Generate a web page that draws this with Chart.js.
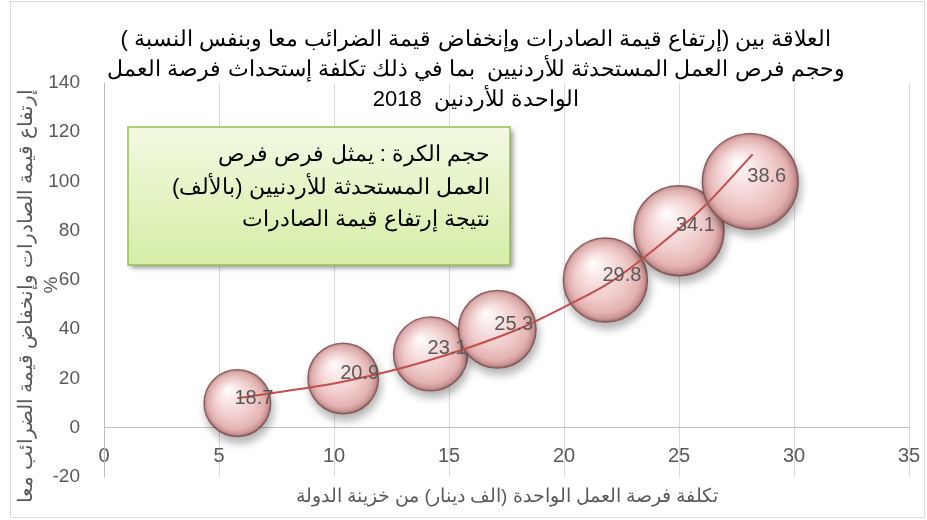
<!DOCTYPE html>
<html>
<head>
<meta charset="utf-8">
<script src="https://cdn.jsdelivr.net/npm/chart.js@4/dist/chart.umd.min.js"></script>
<style>
  html, body { margin: 0; padding: 0; background: #fff; }
  #wrap { width: 927px; height: 520px; }
</style>
</head>
<body>
<div id="wrap"><canvas id="grafico" width="927" height="520"></canvas></div>
<script>
// بيانات الرسم
const costX = [5.8, 10.4, 14.2, 17.1, 21.8, 25.0, 28.1];
const exportsY = [10, 20, 30, 40, 60, 80, 100];
const jobs = [18.7, 20.9, 23.1, 25.3, 29.8, 34.1, 38.6];

// خط الاتجاه كما يظهر في الصورة
const trendX = [5.8, 8, 10, 12, 14, 16, 18, 20, 22, 24, 26, 28.2];
const trendY = [12, 15, 18, 22, 27, 33, 40, 49, 59, 73, 89, 111];

const titleLines = [
  'العلاقة بين (إرتفاع قيمة الصادرات وإنخفاض قيمة الضرائب معا وبنفس النسبة )',
  'وحجم فرص العمل المستحدثة للأردنيين  بما في ذلك تكلفة إستحداث فرصة العمل',
  'الواحدة للأردنين  2018'
];
const noteLines = [
  'حجم الكرة : يمثل فرص فرص',
  'العمل المستحدثة للأردنيين (بالألف)',
  'نتيجة إرتفاع قيمة الصادرات'
];
const yTitle = ['إرتفاع قيمة الصادرات وإنخفاض قيمة الضرائب معا', '%'];
const xTitle = 'تكلفة فرصة العمل الواحدة (الف دينار) من خزينة الدولة';

const maxJobs = Math.max(...jobs);
const MAX_R = 48;

function bubbleFill(context) {
  if (context.type !== 'data') return '#eec4c4';
  const chart = context.chart;
  const p = context.raw;
  const cx = chart.scales.x.getPixelForValue(p.x);
  const cy = chart.scales.y.getPixelForValue(p.y);
  const r = p.r;
  if (!isFinite(cx) || !isFinite(cy)) return '#eec4c4';
  const g = chart.ctx.createRadialGradient(cx - 0.3 * r, cy - 0.42 * r, 0, cx, cy, r);
  g.addColorStop(0, '#ffffff');
  g.addColorStop(0.2, '#fbecec');
  g.addColorStop(0.6, '#f1cccc');
  g.addColorStop(0.85, '#e4b2b2');
  g.addColorStop(0.95, '#c99494');
  g.addColorStop(1, '#976666');
  return g;
}

const decor = {
  id: 'decor',
  beforeDraw(chart) {
    const ctx = chart.ctx;
    ctx.save();
    ctx.fillStyle = '#fff';
    ctx.fillRect(0, 0, chart.width, chart.height);
    ctx.strokeStyle = '#d9d9d9';
    ctx.lineWidth = 1;
    ctx.strokeRect(10.5, 1.5, 914, 516);
    ctx.restore();
  },
  beforeDatasetDraw(chart, args) {
    if (args.meta.type !== 'bubble') return;
    const ctx = chart.ctx;
    ctx.save();
    ctx.shadowColor = 'rgba(0,0,0,0.3)';
    ctx.shadowBlur = 8;
    ctx.shadowOffsetX = 2;
    ctx.shadowOffsetY = 6;
  },
  afterDatasetDraw(chart, args) {
    if (args.meta.type !== 'bubble') return;
    chart.ctx.restore();
  },
  afterDatasetsDraw(chart) {
    const ctx = chart.ctx;
    const meta = chart.getDatasetMeta(1);
    ctx.save();
    ctx.font = '20px "Liberation Sans", Arial, sans-serif';
    ctx.fillStyle = '#595959';
    ctx.textAlign = 'left';
    ctx.textBaseline = 'middle';
    meta.data.forEach((el, i) => {
      ctx.fillText(jobs[i].toFixed(1), el.x - 3, el.y - 5);
    });
    ctx.restore();
  },
  afterDraw(chart) {
    const ctx = chart.ctx;
    ctx.save();
    ctx.direction = 'rtl';

    // العنوان
    ctx.fillStyle = '#000';
    ctx.textAlign = 'center';
    ctx.textBaseline = 'middle';
    ctx.font = '22px "Liberation Sans", Arial, sans-serif';
    titleLines.forEach((t, i) => ctx.fillText(t, 476, 40 + i * 30));

    // عنوان المحور الأفقي
    ctx.fillStyle = '#595959';
    ctx.font = '19px "Liberation Sans", Arial, sans-serif';
    ctx.fillText(xTitle, 507, 497);

    // عنوان المحور العمودي
    ctx.save();
    ctx.translate(27, 296);
    ctx.rotate(-Math.PI / 2);
    ctx.font = '19.5px "Liberation Sans", Arial, sans-serif';
    ctx.fillText(yTitle[0], 0, 0);
    ctx.restore();
    ctx.save();
    ctx.translate(52, 285);
    ctx.rotate(-Math.PI / 2);
    ctx.fillText(yTitle[1], 0, 0);
    ctx.restore();

    // مربع الملاحظة
    const bx = 128, by = 127, bw = 382, bh = 138;
    ctx.save();
    ctx.shadowColor = 'rgba(0,0,0,0.4)';
    ctx.shadowBlur = 5;
    ctx.shadowOffsetX = 3;
    ctx.shadowOffsetY = 3;
    const g = ctx.createLinearGradient(0, by, 0, by + bh);
    g.addColorStop(0, '#f3f9e3');
    g.addColorStop(1, '#d5eea6');
    ctx.fillStyle = g;
    ctx.fillRect(bx, by, bw, bh);
    ctx.restore();
    ctx.strokeStyle = '#9bbb59';
    ctx.lineWidth = 1.5;
    ctx.strokeRect(bx, by, bw, bh);

    ctx.fillStyle = '#000';
    ctx.textAlign = 'right';
    ctx.font = '22px "Liberation Sans", Arial, sans-serif';
    noteLines.forEach((t, i) => ctx.fillText(t, 490, 155 + i * 32.5));
    ctx.restore();
  }
};

const ctx = document.getElementById('grafico').getContext('2d');
new Chart(ctx, {
  type: 'bubble',
  data: {
    datasets: [{
      type: 'line',
      label: 'trend',
      data: trendX.map((x, i) => ({ x: x, y: trendY[i] })),
      borderColor: '#c0504d',
      borderWidth: 2,
      pointRadius: 0,
      tension: 0.4,
      cubicInterpolationMode: 'monotone',
      fill: false,
      order: 0
    }, {
      label: 'jobs',
      data: costX.map((x, i) => ({ x: x, y: exportsY[i], r: MAX_R * Math.sqrt(jobs[i] / maxJobs) })),
      backgroundColor: bubbleFill,
      borderColor: 'rgba(120,70,70,0.8)',
      borderWidth: 1.2,
      radius: 0,
      hoverRadius: 0,
      clip: false,
      order: 1
    }]
  },
  options: {
    responsive: false,
    animation: false,
    layout: { autoPadding: false, padding: { left: 0, top: 83, right: 18, bottom: 43 } },
    plugins: { legend: { display: false }, tooltip: { enabled: false } },
    scales: {
      x: {
        type: 'linear',
        position: { y: 0 },
        min: 0, max: 35,
        ticks: { stepSize: 5, autoSkip: false, maxRotation: 0, padding: 17, color: '#595959',
                 font: { family: '"Liberation Sans", Arial, sans-serif', size: 20 } },
        grid: { color: '#d9d9d9', drawTicks: false },
        border: { color: '#bfbfbf' },
        afterFit: s => { s.paddingLeft = 0; s.paddingRight = 0; }
      },
      y: {
        min: -20, max: 140,
        ticks: { stepSize: 20, padding: 24, color: '#595959',
                 font: { family: '"Liberation Sans", Arial, sans-serif', size: 19 } },
        grid: { display: false, drawTicks: false },
        border: { color: '#bfbfbf' },
        afterFit: s => { s.width = 104; }
      }
    }
  },
  plugins: [decor]
});
</script>
</body>
</html>
